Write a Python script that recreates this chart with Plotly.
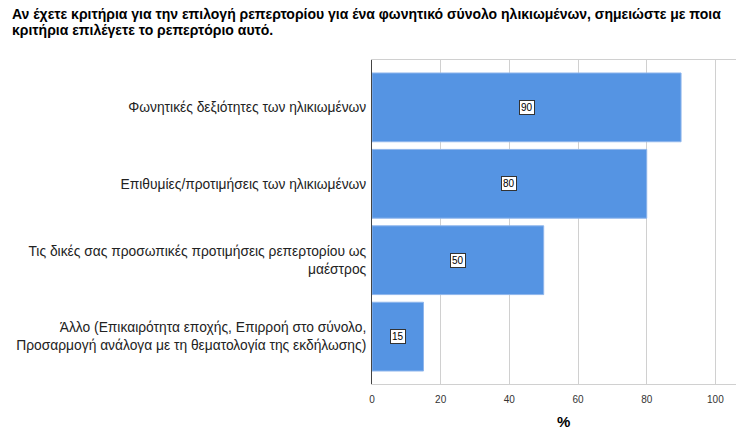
import plotly.graph_objects as go

title_lines = [
    "Αν έχετε κριτήρια για την επιλογή ρεπερτορίου για ένα φωνητικό σύνολο ηλικιωμένων, σημειώστε με ποια",
    "κριτήρια επιλέγετε το ρεπερτόριο αυτό.",
]

categories = [
    'Φωνητικές δεξιότητες των ηλικιωμένων',
    'Επιθυμίες/προτιμήσεις των ηλικιωμένων',
    'Τις δικές σας προσωπικές προτιμήσεις ρεπερτορίου ως<br>μαέστρος',
    'Άλλο (Επικαιρότητα εποχής, Επιρροή στο σύνολο,<br>Προσαρμογή ανάλογα με τη θεματολογία της εκδήλωσης)',
]
values = [90, 80, 50, 15]
tick_vals = [0, 20, 40, 60, 80, 100]
x_title = '%'

BAR_COLOR = '#5594e3'
FONT = 'Liberation Sans, Arial'

fig = go.Figure()
fig.add_trace(go.Bar(
    y=categories, x=values, orientation='h',
    marker=dict(color=BAR_COLOR, line=dict(color='#8fb6ec', width=1)),
    width=0.9, showlegend=False, hoverinfo='x+y',
))

# value labels in small boxes at the middle of each bar
for cat, v in zip(categories, values):
    fig.add_annotation(
        x=v / 2, y=cat, text=str(v), showarrow=False,
        font=dict(family=FONT, size=10, color='black'),
        bgcolor='white', bordercolor='#333333', borderwidth=1, borderpad=1,
    )

# two-line bold title, placed as annotations for tight line spacing
for i, line in enumerate(title_lines):
    fig.add_annotation(
        text=f'<b>{line}</b>', xref='paper', yref='paper',
        x=(10 - 372) / 364, y=(384 - (14 + 16 * i)) / 324,
        xanchor='left', yanchor='middle', showarrow=False,
        font=dict(family=FONT, size=14, color='black'),
    )

# x axis title (sits a bit right of centre in the original)
fig.add_annotation(
    text=f'<b>{x_title}</b>', xref='paper', yref='paper',
    x=(563 - 372) / 364, y=(384 - 432) / 324,
    xanchor='center', yanchor='bottom', showarrow=False,
    font=dict(family=FONT, size=15, color='black'),
)

fig.update_layout(
    width=738, height=433,
    margin=dict(l=372, r=2, t=60, b=49, autoexpand=False),
    plot_bgcolor='white', paper_bgcolor='white',
    font=dict(family=FONT, color='black'),
    bargap=0.1,
)
fig.update_xaxes(
    range=[0, 106], tickvals=tick_vals, ticks='', showgrid=True,
    gridcolor='#d0d0d0', gridwidth=1, zeroline=False, automargin=False,
    tickfont=dict(size=10, color='#333333'), ticklabelstandoff=6,
    showline=True, linecolor='#d0d0d0', mirror=True,
)
fig.update_yaxes(
    autorange=False, range=[3.62, -0.62], ticks='', showgrid=False,
    automargin=False,
    tickfont=dict(size=13.8, color='#222222'), ticklabelstandoff=2,
    showline=True, linecolor='#444444', linewidth=1,
)

fig.write_html("out.html", config={'displayModeBar': False},
               post_script="document.body.style.margin='0';")
